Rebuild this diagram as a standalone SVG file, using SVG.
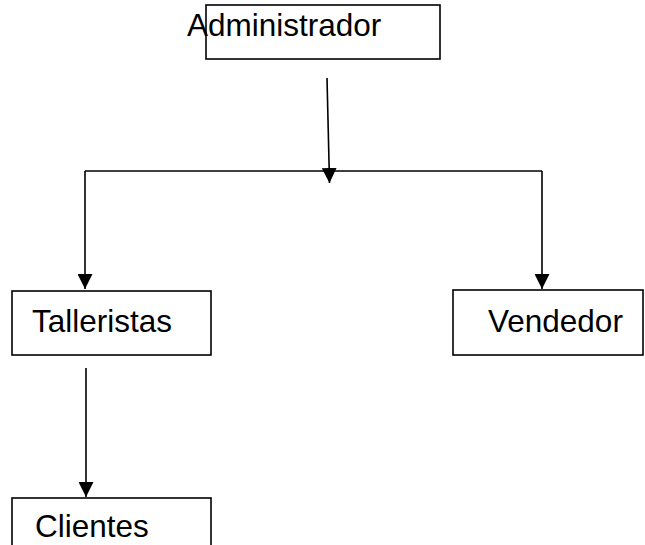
<svg xmlns="http://www.w3.org/2000/svg" width="645" height="545" viewBox="0 0 645 545">
<defs>
<style>
.box{fill:#fff;stroke:#000;stroke-width:1.6}
.lbl{font-family:"Liberation Sans",Arial,sans-serif;font-size:31.5px;fill:#000}
.ln{fill:none;stroke:#000;stroke-width:1.6}
</style>
<marker id="ah" markerWidth="15" markerHeight="15" refX="15" refY="7.5" orient="auto" markerUnits="userSpaceOnUse">
<path d="M0,0 L15,7.5 L0,15 Z" fill="#000"/>
</marker>
</defs>
<g id="connectors">
<line class="ln" x1="327" y1="78" x2="329.5" y2="183" marker-end="url(#ah)"/>
<polyline class="ln" points="85,171 542,171"/>
<line class="ln" x1="85" y1="171" x2="85" y2="289" marker-end="url(#ah)"/>
<line class="ln" x1="542" y1="171" x2="542" y2="289" marker-end="url(#ah)"/>
<line class="ln" x1="86" y1="368" x2="86" y2="497" marker-end="url(#ah)"/>
</g>
<g id="administrador">
<rect class="box" x="206" y="5" width="234" height="54"/>
<text class="lbl" x="187" y="36">Administrador</text>
</g>
<g id="talleristas">
<rect class="box" x="12" y="291" width="199" height="64"/>
<text class="lbl" x="32" y="332">Talleristas</text>
</g>
<g id="vendedor">
<rect class="box" x="453" y="290" width="190" height="65"/>
<text class="lbl" x="488" y="332">Vendedor</text>
</g>
<g id="clientes">
<rect class="box" x="12" y="498" width="199" height="70"/>
<text class="lbl" x="35" y="537">Clientes</text>
</g>
</svg>
